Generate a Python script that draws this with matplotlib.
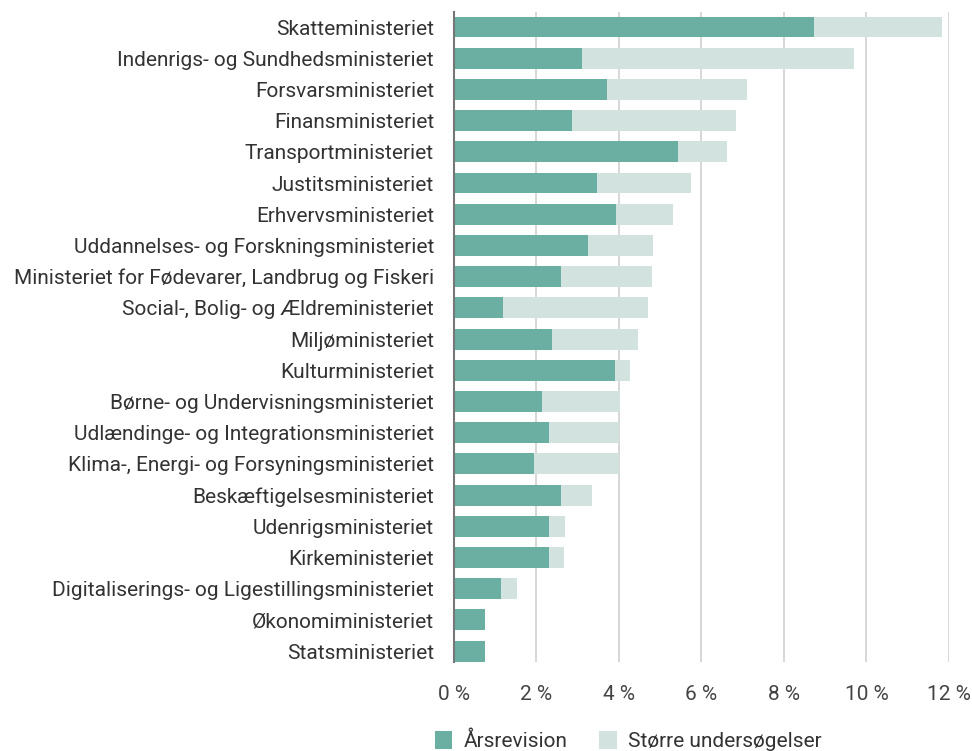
import matplotlib
matplotlib.use("Agg")
import matplotlib.pyplot as plt
from matplotlib.patches import Patch

categories = [
    "Skatteministeriet",
    "Indenrigs- og Sundhedsministeriet",
    "Forsvarsministeriet",
    "Finansministeriet",
    "Transportministeriet",
    "Justitsministeriet",
    "Erhvervsministeriet",
    "Uddannelses- og Forskningsministeriet",
    "Ministeriet for Fødevarer, Landbrug og Fiskeri",
    "Social-, Bolig- og Ældreministeriet",
    "Miljøministeriet",
    "Kulturministeriet",
    "Børne- og Undervisningsministeriet",
    "Udlændinge- og Integrationsministeriet",
    "Klima-, Energi- og Forsyningsministeriet",
    "Beskæftigelsesministeriet",
    "Udenrigsministeriet",
    "Kirkeministeriet",
    "Digitaliserings- og Ligestillingsministeriet",
    "Økonomiministeriet",
    "Statsministeriet",
]
aarsrevision = [8.73, 3.11, 3.71, 2.86, 5.44, 3.47, 3.93, 3.26, 2.60, 1.20, 2.38,
                3.90, 2.14, 2.30, 1.96, 2.60, 2.31, 2.31, 1.15, 0.77, 0.76]
total = [11.82, 9.70, 7.11, 6.83, 6.63, 5.75, 5.31, 4.83, 4.80, 4.70, 4.47,
         4.28, 4.03, 4.01, 4.01, 3.35, 2.71, 2.67, 1.54, 0.77, 0.76]
stoerre = [round(t - a, 2) for t, a in zip(total, aarsrevision)]
xticks = [0, 2, 4, 6, 8, 10, 12]
xticklabels = ["0 %", "2 %", "4 %", "6 %", "8 %", "10 %", "12 %"]
series_names = ["Årsrevision", "Større undersøgelser"]

GREEN = "#6aafa2"
LIGHT = "#d2e2de"
TEXT = "#333333"
FONT = ["Roboto", "DejaVu Sans"]
FS = 15

plt.rcParams["font.family"] = FONT

fig = plt.figure(figsize=(9.72, 7.51), dpi=100)
ax = fig.add_axes([0.4666, 0.1189, 0.5098, 0.8655])

y = list(range(len(categories)))
ax.barh(y, aarsrevision, height=0.67, color=GREEN, zorder=3)
ax.barh(y, stoerre, left=aarsrevision, height=0.67, color=LIGHT, zorder=3)

ax.set_xlim(0, 12)
ax.set_ylim(len(categories) - 1 + 0.34, -0.49)
ax.set_yticks(y)
ax.set_yticklabels(categories, fontsize=FS, color=TEXT)
ax.set_xticks(xticks)
ax.set_xticklabels(xticklabels, fontsize=FS, color="#444444")
ax.tick_params(axis="y", length=0, pad=14)
ax.tick_params(axis="x", length=0, pad=17)
ax.grid(axis="x", color="#d4d4d4", linewidth=1.3, zorder=0)
for s in ["top", "right", "bottom"]:
    ax.spines[s].set_visible(False)
ax.spines["left"].set_color("#777777")
ax.spines["left"].set_linewidth(1.5)
ax.spines["left"].set_zorder(4)

handles = [Patch(facecolor=GREEN, label=series_names[0]),
           Patch(facecolor=LIGHT, label=series_names[1])]
fig.legend(handles=handles, loc="center left", bbox_to_anchor=(0.428, 0.013),
           ncol=2, frameon=False, fontsize=FS, labelcolor=TEXT,
           handlelength=0.85, handleheight=0.95, handletextpad=0.55, columnspacing=1.5)

fig.savefig("out.png", dpi=100)
